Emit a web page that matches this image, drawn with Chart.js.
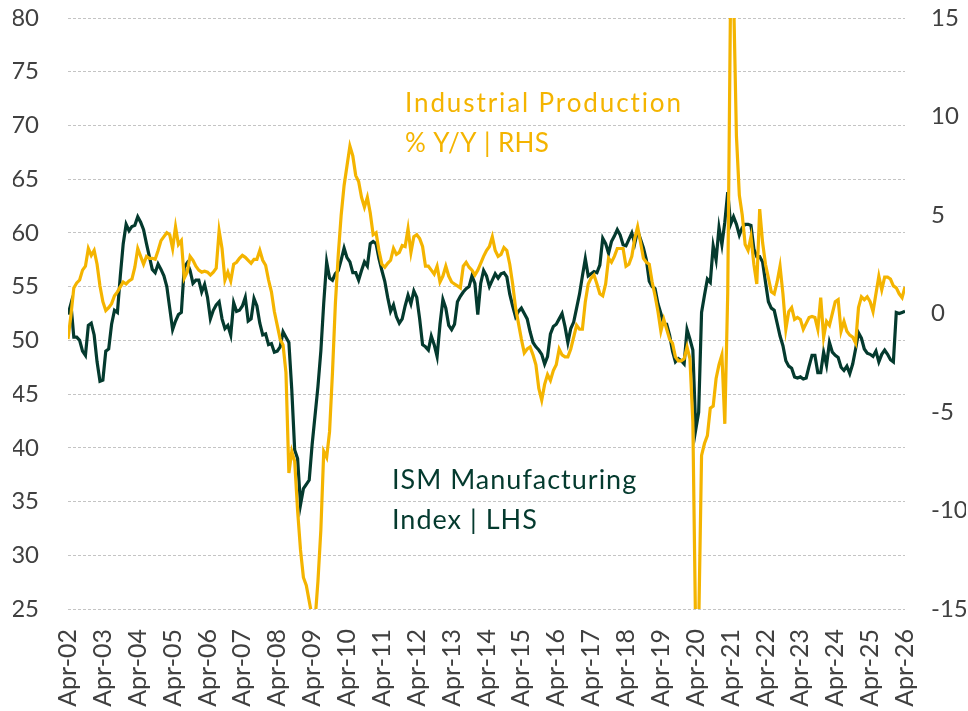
<!DOCTYPE html>
<html>
<head>
<meta charset="utf-8">
<script src="https://cdn.jsdelivr.net/npm/chart.js@4.4.1/dist/chart.umd.min.js"></script>
<style>
  html, body { margin: 0; padding: 0; background: #ffffff; }
  #wrap { width: 968px; height: 711px; }
</style>
</head>
<body>
<div id="wrap"><canvas id="chart-ism" width="968" height="711"></canvas></div>
<script>
(function() {
  "use strict";

  // 月次データ Apr-02 .. Apr-26（1行 = 4月〜翌3月）
  var START_YEAR = 2002;
  var START_MONTH = 3; // Apr
  var MONTH_NAMES = ['Jan', 'Feb', 'Mar', 'Apr', 'May', 'Jun', 'Jul', 'Aug', 'Sep', 'Oct', 'Nov', 'Dec'];

  // ISM Manufacturing Index (LHS)
  var ismValues = [
    52.4, 53.4, 50.3, 50.3, 50.0, 49.0, 48.6, 51.4, 51.6, 50.5, 48.0, 46.2,
    46.3, 49.0, 49.2, 51.5, 52.8, 52.6, 56.0, 59.0, 60.8, 60.2, 60.6, 60.7,
    61.5, 61.0, 60.3, 59.0, 57.8, 56.6, 56.3, 57.1, 56.6, 56.0, 55.0, 53.0,
    51.0, 51.8, 52.4, 52.6, 56.8, 57.2, 56.5, 55.3, 55.6, 55.6, 54.5, 55.2,
    54.0, 52.0, 52.8, 53.3, 53.6, 52.0, 51.1, 51.4, 50.5, 53.5, 52.7, 52.8,
    53.2, 54.0, 51.8, 52.0, 53.9, 53.2, 51.6, 50.5, 50.6, 49.6, 49.7, 48.9,
    49.0, 49.4, 50.8, 50.3, 49.8, 45.4, 39.8, 39.0, 34.7, 36.2, 36.6, 37.0,
    40.3, 43.0, 45.7, 49.0, 53.5, 57.3, 55.8, 55.6, 56.2, 56.5, 57.5, 58.6,
    57.7, 57.3, 56.3, 56.3, 55.6, 56.5, 57.3, 56.9, 59.0, 59.2, 59.0, 57.6,
    56.5, 55.5, 54.0, 52.7, 53.3, 52.2, 51.6, 52.0, 53.2, 54.2, 53.4, 54.6,
    54.0, 52.0, 49.6, 49.4, 49.1, 50.4, 49.6, 48.5, 51.5, 53.8, 53.0, 51.4,
    51.0, 51.5, 53.6, 54.1, 54.5, 54.8, 55.0, 56.0, 55.3, 52.4, 55.3, 56.5,
    56.0, 55.0, 55.6, 56.2, 55.8, 56.2, 56.3, 55.9, 54.3, 53.2, 52.2, 52.7,
    53.0, 52.5, 52.0, 50.8, 49.8, 49.4, 49.1, 48.7, 47.8, 48.5, 50.6, 51.3,
    51.5, 52.0, 52.5, 51.3, 49.8, 51.1, 51.7, 53.0, 54.3, 56.0, 57.6, 56.0,
    56.2, 56.4, 56.3, 57.0, 59.5, 59.0, 58.1, 59.2, 59.7, 60.3, 59.8, 58.9,
    58.8, 59.4, 60.0, 59.0, 60.2, 59.4, 58.6, 57.5, 55.5, 55.0, 54.8, 53.4,
    52.5, 51.5, 51.5, 50.5, 49.0, 48.0, 48.3, 48.1, 47.8, 51.0, 50.1, 49.1,
    41.7, 43.3, 52.6, 54.2, 55.7, 55.4, 58.8, 57.5, 60.5, 58.9, 61.0, 63.8,
    60.8, 61.5, 60.8, 59.8, 60.5, 60.8, 60.8, 60.7, 58.5, 57.8, 57.8, 57.3,
    55.4, 53.6, 53.0, 52.8, 51.6, 50.4, 49.5, 48.1, 47.6, 47.4, 46.6, 46.5,
    46.6, 46.4, 46.5, 47.6, 48.6, 48.6, 47.0, 47.0, 48.9, 47.7, 49.8, 48.9,
    48.6, 48.4, 47.5, 47.2, 47.6, 46.9, 47.8, 49.2, 50.7, 50.2, 49.2, 48.8,
    48.7, 48.5, 49.0, 48.0, 48.7, 49.1, 48.7, 48.2, 48.0, 52.6, 52.5, 52.6,
    52.7
  ];

  // Industrial Production % Y/Y (RHS)
  var ipValues = [
    -1.3, -0.1, 1.3, 1.55, 1.7, 2.2, 2.4, 3.3, 2.95, 3.2, 2.5, 1.4,
    0.6, 0.15, 0.3, 0.5, 0.9, 1.1, 1.35, 1.6, 1.5, 1.65, 1.75, 2.35,
    3.3, 2.9, 2.5, 2.9, 2.8, 2.8, 2.75, 3.2, 3.7, 3.9, 4.1, 4.0,
    3.3, 4.4, 3.5, 3.7, 1.8, 2.1, 2.9, 2.7, 2.4, 2.2, 2.1, 2.15,
    2.1, 1.95, 2.1, 2.3, 4.2, 3.3, 1.7, 2.1, 1.65, 2.5, 2.6, 2.8,
    2.95, 2.85, 2.7, 2.55, 2.75, 2.75, 3.2, 2.7, 2.45, 1.7, 1.1, 0.1,
    -0.6, -1.3, -1.6, -3.0, -8.1, -7.0, -7.5, -10.0, -12.0, -13.4, -13.8, -14.6,
    -15.4, -15.6, -13.6, -11.0, -7.0, -7.3, -6.0, -3.0, 0.5, 3.0, 5.0, 6.5,
    7.5, 8.5, 8.0, 7.0, 6.7, 5.9, 5.4, 5.9, 5.1, 4.0, 4.1, 3.2,
    2.5, 2.35, 2.55, 2.7, 3.3, 3.0, 3.1, 3.45, 3.4, 4.3, 3.1, 3.9,
    4.0, 3.8, 3.4, 2.4, 2.4, 2.2, 2.0, 2.4, 1.6, 1.9, 2.4, 1.9,
    1.6, 1.5, 1.4, 1.3, 2.4, 2.6, 2.35, 2.2, 1.95, 2.2, 2.55, 2.9,
    3.2, 3.4, 3.9, 3.2, 2.9, 3.0, 3.35, 3.2, 2.5, 1.5, 0.3, -0.5,
    -1.3, -2.0, -1.8, -1.7, -2.1, -2.6, -3.8, -4.4, -3.6, -3.1, -3.4, -2.9,
    -2.6, -1.8, -2.1, -2.2, -2.2, -1.8, -1.2, -0.6, -0.8, -0.8, 0.6, 1.5,
    1.8, 1.95, 1.5, 1.0, 0.9, 1.5, 2.8, 2.6, 2.9, 3.3, 3.3, 3.3,
    2.4, 2.5, 2.9, 3.8, 4.4, 3.6, 2.8, 2.6, 2.5, 1.6, 0.9, 0.1,
    -0.9, -0.3, -0.8, -1.3, -1.5, -2.2, -2.4, -2.4, -2.3, -1.7, -2.3, -5.5,
    -16.6, -16.0, -7.2, -6.6, -6.2, -4.8, -4.7, -3.3, -2.6, -2.1, -5.6, 1.0,
    16.5, 16.3, 9.0, 6.0, 5.0, 3.5, 3.2, 3.9, 2.5, 1.5, 5.3, 3.6,
    2.5, 1.8, 1.1, 1.0, 1.6, 2.4, 1.0, -0.8, 0.1, 0.3, -0.3, -0.2,
    -0.3, -0.8, -0.5, -0.2, -0.15, -0.2, -0.8, 0.8, -1.2, -0.4, -0.6, 0.0,
    0.6, 0.7, -0.9, -0.4, -0.9, -1.1, -1.2, -1.5, 0.3, 0.85, 0.7, 0.85,
    0.6, 0.1, 1.0, 1.9, 1.2, 1.85, 1.85, 1.75, 1.4, 1.3, 1.0, 0.8,
    1.35
  ];

  // 軸レンジ
  var LHS_MIN = 25, LHS_MAX = 80, LHS_STEP = 5;
  var RHS_MIN = -15, RHS_MAX = 15, RHS_STEP = 5;
  var LABEL_EVERY = 12;

  var ISM_COLOR = '#043a2e';
  var IP_COLOR = '#f4b400';
  var TICK_COLOR = '#404040';
  var GRID_COLOR = '#c4c4c4';
  var FONT = 'Lato';

  // 月ラベル作成（Apr-02 形式）
  var monthLabels = ismValues.map(function(v, i) {
    var mm = START_MONTH + i;
    var yy = START_YEAR + Math.floor(mm / 12);
    return MONTH_NAMES[mm % 12] + '-' + String(yy % 100).padStart(2, '0');
  });

  // 軸の幅を固定（自動パディングを無効化）
  function fixBox(width, height) {
    return function(scale) {
      if (width != null) scale.width = width;
      if (height != null) scale.height = height;
      scale.paddingLeft = 0;
      scale.paddingRight = 0;
      scale.paddingTop = 0;
      scale.paddingBottom = 0;
    };
  }

  // 注記テキスト
  var annotations = {
    id: 'annotations',
    afterDatasetsDraw: function(chart) {
      var ctx = chart.ctx;
      ctx.save();
      ctx.textAlign = 'left';
      ctx.textBaseline = 'alphabetic';

      ctx.font = '26px ' + FONT;
      ctx.fillStyle = IP_COLOR;
      ctx.letterSpacing = '1.9px';
      ctx.fillText('Industrial Production', 405, 112);
      ctx.letterSpacing = '0.4px';
      ctx.fillText('% Y/Y | RHS', 405, 152);

      ctx.letterSpacing = '1px';
      ctx.font = '27px ' + FONT;
      ctx.fillStyle = ISM_COLOR;
      ctx.fillText('ISM Manufacturing', 392, 489);
      ctx.fillText('Index | LHS', 392, 529);
      ctx.restore();
    }
  };

  var ctx = document.getElementById('chart-ism');
  new Chart(ctx, {
    type: 'line',
    data: {
      labels: monthLabels,
      datasets: [
        {
          label: 'Industrial Production % Y/Y | RHS',
          data: ipValues,
          yAxisID: 'yRight',
          borderColor: IP_COLOR,
          borderWidth: 3.2,
          pointRadius: 0,
          tension: 0,
          fill: false,
          clip: 0
        },
        {
          label: 'ISM Manufacturing Index | LHS',
          data: ismValues,
          yAxisID: 'yLeft',
          borderColor: ISM_COLOR,
          borderWidth: 3.2,
          pointRadius: 0,
          tension: 0,
          fill: false,
          clip: 0
        }
      ]
    },
    options: {
      responsive: false,
      animation: false,
      layout: { padding: { left: 13, right: 2, top: 18, bottom: 0 } },
      plugins: {
        legend: { display: false },
        tooltip: { enabled: false }
      },
      scales: {
        x: {
          type: 'category',
          offset: false,
          afterFit: fixBox(null, 102),
          grid: { display: false, drawTicks: false },
          border: { display: false },
          ticks: {
            autoSkip: false,
            minRotation: 90,
            maxRotation: 90,
            padding: 20,
            color: TICK_COLOR,
            font: { family: FONT, size: 25 },
            callback: function(value, index) {
              return index % LABEL_EVERY === 0 ? monthLabels[index] : '';
            }
          }
        },
        yLeft: {
          position: 'left',
          min: LHS_MIN,
          max: LHS_MAX,
          afterFit: fixBox(55, null),
          grid: { color: GRID_COLOR, lineWidth: 1, drawTicks: false },
          border: { display: false, dash: [3, 2] },
          ticks: {
            stepSize: LHS_STEP,
            padding: 29,
            color: TICK_COLOR,
            font: { family: FONT, size: 24 }
          }
        },
        yRight: {
          position: 'right',
          min: RHS_MIN,
          max: RHS_MAX,
          afterFit: fixBox(61, null),
          grid: { display: false, drawTicks: false },
          border: { display: false },
          ticks: {
            stepSize: RHS_STEP,
            padding: 26,
            color: TICK_COLOR,
            font: { family: FONT, size: 24 }
          }
        }
      }
    },
    plugins: [annotations]
  });
})();
</script>
</body>
</html>
